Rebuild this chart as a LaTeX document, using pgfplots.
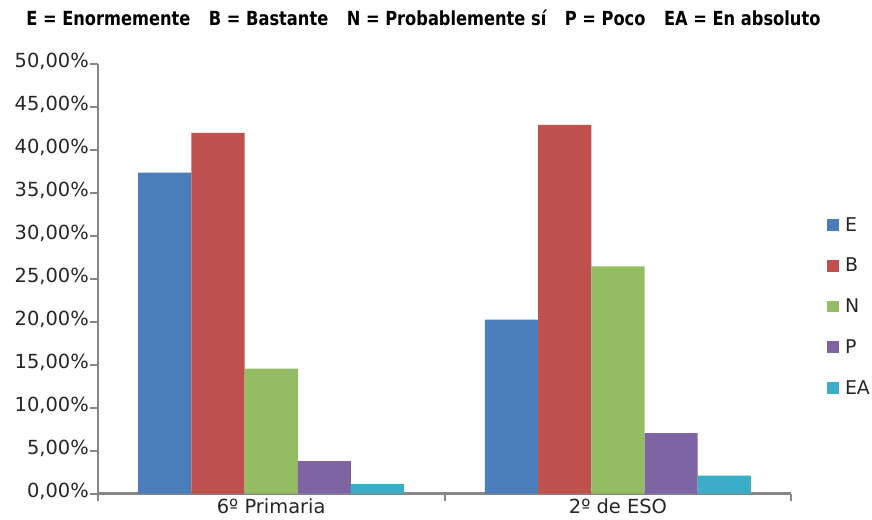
\documentclass[border=0pt]{standalone}
\usepackage{pgfplots}
\pgfplotsset{compat=1.18}
\usepackage{fontspec}
\setmainfont{DejaVu Sans}
\newfontfamily\titlefont{DejaVu Sans Condensed}
\definecolor{cE}{HTML}{4A7EBB}
\definecolor{cB}{HTML}{BE504D}
\definecolor{cN}{HTML}{94BC63}
\definecolor{cP}{HTML}{7F64A3}
\definecolor{cEA}{HTML}{3BADC8}
\definecolor{axisgray}{HTML}{878787}
\definecolor{titleblue}{HTML}{1D4F7D}
\definecolor{txt}{HTML}{262626}
\newsavebox\titlebox
\begin{document}
\sbox\titlebox{\titlefont\bfseries\fontsize{19.5bp}{24bp}\selectfont E = Enormemente\hspace{20bp}B = Bastante\hspace{20bp}N = Probablemente sí\hspace{20bp}P = Poco\hspace{20bp}EA = En absoluto}
\begin{tikzpicture}
\pgfmathsetmacro\xs{800.0/\the\wd\titlebox}
\node[anchor=base west, inner sep=0pt, text=titleblue] at (23bp,-26bp) {\scalebox{\xs}[1]{\usebox\titlebox}};
\begin{axis}[
  at={(95bp,-495.3bp)}, anchor=south west,
  scale only axis, width=696bp, height=431bp,
  xmin=-0.5, xmax=1.5, ymin=0, ymax=50,
  ybar=0pt, bar width=0.1534,
  axis x line=bottom, axis y line=left,
  axis line style={draw=axisgray, line width=2.2bp, -},
  xtick={-0.5,0.5,1.5}, xticklabels={},
  extra x ticks={0,1}, extra x tick labels={6º Primaria,2º de ESO},
  extra x tick style={major tick length=0pt, tick style={draw=none}},
  xticklabel style={anchor=north, inner sep=0pt, text depth=0pt, yshift=-5.5bp},
  ytick={0,5,...,50},
  tick align=outside, major tick length=7.5bp,
  tick style={draw=axisgray, line width=2bp},
  yticklabel={\pgfmathprintnumber[fixed,fixed zerofill,precision=2,use comma,assume math mode=true]{\tick}\%},
  ticklabel style={font=\fontsize{19.5bp}{21bp}\selectfont, text=txt},
  yticklabel style={xshift=2bp, yshift=2.5bp},
  legend style={at={(1.0513,0.643)}, anchor=north west, draw=none, fill=none, inner sep=0pt,
    row sep=27.5bp, column sep=6bp, font=\fontsize{19bp}{21bp}\selectfont, text=txt,
    nodes={inner sep=0pt, text height=13.5bp, text depth=0pt}},
  legend cell align=left,
  mylegend/.style={legend image code/.code={\fill[##1] (0bp,-6.5bp) rectangle (12bp,5.5bp);}},
]
\addplot[fill=cE, draw=none, mylegend] coordinates {(0,37.35) (1,20.26)};
\addplot[fill=cB, draw=none, mylegend] coordinates {(0,42.00) (1,42.92)};
\addplot[fill=cN, draw=none, mylegend] coordinates {(0,14.54) (1,26.45)};
\addplot[fill=cP, draw=none, mylegend] coordinates {(0,3.78) (1,7.03)};
\addplot[fill=cEA, draw=none, mylegend] coordinates {(0,1.08) (1,2.09)};
\legend{E,B,N,P,EA}
\end{axis}
\pgfresetboundingbox
\path[use as bounding box] (0,0) rectangle (872bp,-521bp);
\end{tikzpicture}
\end{document}
